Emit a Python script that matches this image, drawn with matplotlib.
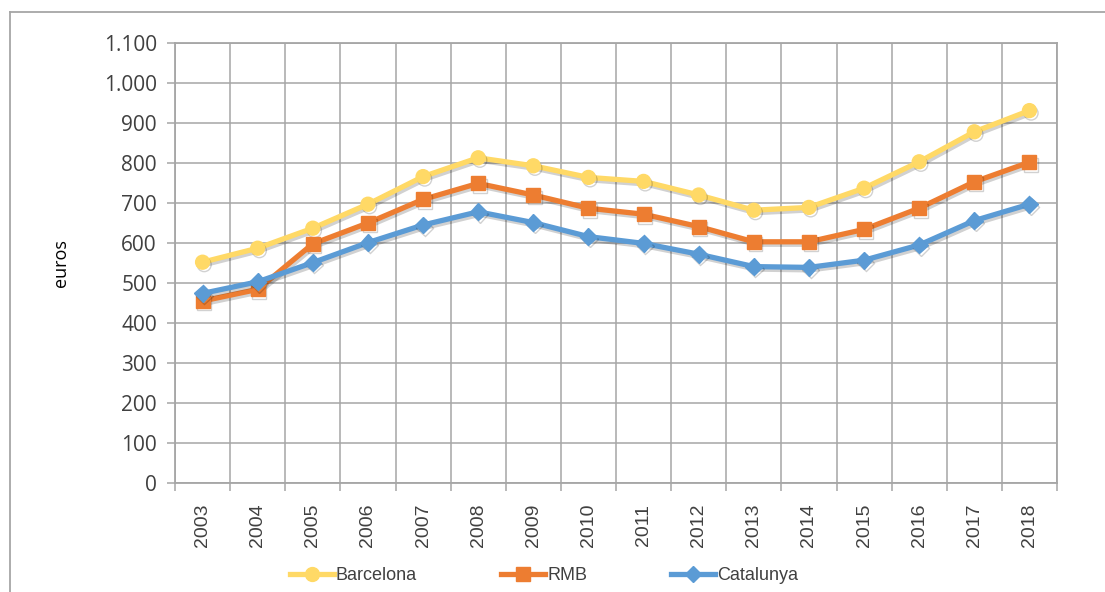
import matplotlib.pyplot as plt
import matplotlib.patheffects as pe
from matplotlib.lines import Line2D
from matplotlib.ticker import FuncFormatter
import numpy as np

# Data (euros)
years = [str(y) for y in range(2003, 2019)]
barcelona = [552, 587, 637, 697, 766, 813, 793, 764, 754, 720, 682, 689, 737, 803, 878, 931]
rmb = [455, 484, 598, 650, 709, 749, 720, 687, 672, 641, 603, 603, 634, 687, 753, 802]
catalunya = [474, 503, 551, 601, 645, 678, 651, 616, 599, 572, 541, 539, 557, 595, 656, 697]

series = [
    ("Barcelona", barcelona, "#FFD966", "o", 10),
    ("RMB", rmb, "#ED7D31", "s", 10),
    ("Catalunya", catalunya, "#5B9BD5", "D", 8.5),
]

tick_font = ["Open Sans", "DejaVu Sans"]
narrow_font = ["Liberation Sans Narrow", "Liberation Sans", "DejaVu Sans"]
grid_col = "#A6A6A6"
text_col = "#404040"

fig = plt.figure(figsize=(11.05, 5.92), dpi=100)
ax = fig.add_axes([175 / 1105, 1 - 483 / 592, 882 / 1105, 440 / 592])

x = np.arange(len(years))
shadow = [pe.SimpleLineShadow(offset=(1.2, -1.8), shadow_color="black", alpha=0.18), pe.Normal()]
handles = []
for name, vals, col, mk, ms in series:
    ax.plot(x, vals, color=col, lw=3.8, marker=mk, markersize=ms,
            markerfacecolor=col, markeredgecolor=col, zorder=3,
            path_effects=shadow)
    handles.append(Line2D([], [], color=col, lw=3.8, marker=mk, markersize=ms,
                          markerfacecolor=col, markeredgecolor=col))

ax.set_xlim(-0.5, len(years) - 0.5)
ax.set_ylim(0, 1100)
ax.set_yticks(np.arange(0, 1101, 100))
ax.yaxis.set_major_formatter(FuncFormatter(lambda v, p: f"{int(v):,}".replace(",", ".")))
ax.set_xticks(x)
ax.set_xticklabels(years, rotation=90, family=narrow_font, fontsize=14, color=text_col)
ax.set_xticks(np.arange(-0.5, len(years), 1), minor=True)

for lab in ax.get_yticklabels():
    lab.set_family(tick_font)
    lab.set_fontsize(15)
    lab.set_color(text_col)

ax.tick_params(axis="x", which="major", length=0, pad=15)
ax.tick_params(axis="x", which="minor", length=6, width=1.1, color=grid_col)
ax.tick_params(axis="y", length=6, width=1.1, color=grid_col, pad=7)

ax.grid(True, axis="y", which="major", color=grid_col, lw=1.1)
ax.grid(True, axis="x", which="minor", color=grid_col, lw=1.1)
ax.set_axisbelow(True)
for s in ax.spines.values():
    s.set_color(grid_col)
    s.set_linewidth(1.3)

ax.set_ylabel("euros", family=tick_font, fontsize=13, color="black", labelpad=24)

fig.legend(handles, [s[0] for s in series], loc="center", bbox_to_anchor=(544 / 1105, 1 - 576 / 592),
           ncol=3, frameon=False, handlelength=2.45, handletextpad=0.1, columnspacing=4.65,
           prop={"family": narrow_font, "size": 13}, labelcolor=text_col)

# outer chart border (left and top visible)
fig.add_artist(Line2D([10 / 1105, 10 / 1105], [0, 1 - 12 / 592], transform=fig.transFigure,
                      color="#A6A6A6", lw=1.3))
fig.add_artist(Line2D([10 / 1105, 1], [1 - 12 / 592, 1 - 12 / 592], transform=fig.transFigure,
                      color="#A6A6A6", lw=1.3))

fig.savefig("out.png", dpi=100)
